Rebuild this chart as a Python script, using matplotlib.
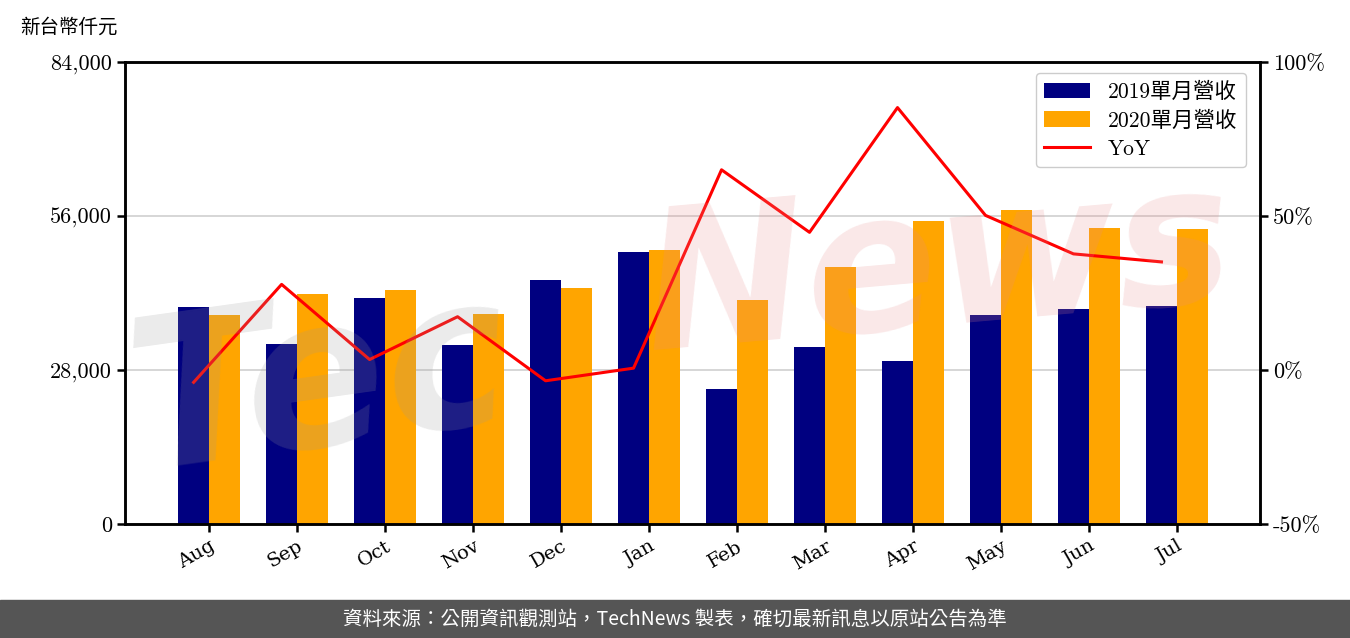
import matplotlib
matplotlib.use('Agg')
import matplotlib.pyplot as plt
from matplotlib.ticker import FuncFormatter
from matplotlib.patches import Rectangle
import numpy as np

months = ['Aug', 'Sep', 'Oct', 'Nov', 'Dec', 'Jan', 'Feb', 'Mar', 'Apr', 'May', 'Jun', 'Jul']
rev_2019 = [39450, 32700, 41100, 32550, 44350, 49450, 24550, 32200, 29650, 38000, 39100, 39650]
rev_2020 = [38000, 41800, 42550, 38200, 42900, 49800, 40750, 46750, 55100, 57100, 53800, 53650]
yoy = [-4.0, 27.8, 3.4, 17.3, -3.5, 0.6, 65.0, 44.7, 85.2, 50.2, 37.7, 35.1]

plt.rcParams['font.family'] = ['cmr10', 'Noto Sans CJK TC']
plt.rcParams['axes.unicode_minus'] = False

fig = plt.figure(figsize=(13.5, 6.38), dpi=100)
ax = fig.add_axes([125 / 1350, 1 - 524 / 638, 1135 / 1350, 462 / 638])
ax2 = ax.twinx()

x = np.arange(len(months))
w = 0.35
ax.bar(x - w / 2, rev_2019, width=w, color='#000080', label='2019單月營收', zorder=2)
ax.bar(x + w / 2, rev_2020, width=w, color='#FFA500', label='2020單月營收', zorder=2)
ax2.plot(x - w / 2, yoy, color='red', linewidth=2.2, label='YoY', zorder=3)

ax.set_xlim(-0.955, 11.945)
ax.set_ylim(0, 84000)
ax.set_yticks([0, 28000, 56000, 84000])
ax.yaxis.set_major_formatter(FuncFormatter(lambda v, p: f'{int(v):,}'))
ax.grid(axis='y', color='#d0d0d0', linewidth=1.2, zorder=0)
ax.set_axisbelow(True)

ax2.set_ylim(-50, 100)
ax2.set_yticks([-50, 0, 50, 100])
ax2.yaxis.set_major_formatter(FuncFormatter(lambda v, p: f'{int(v)}%'))

ax.set_xticks(x)
ax.set_xticklabels(months, rotation=30, ha='right', rotation_mode='anchor',
                   family='DejaVu Serif', fontsize=14)

for a in (ax, ax2):
    for s in a.spines.values():
        s.set_linewidth(1.8)
    a.tick_params(axis='y', labelsize=16, width=1.8, length=6)
    a.tick_params(axis='x', width=1.8, length=6)

h1, l1 = ax.get_legend_handles_labels()
h2, l2 = ax2.get_legend_handles_labels()
leg = ax2.legend(h1 + h2, l1 + l2, loc='upper right', fontsize=15.5,
                 handlelength=2.1, handleheight=0.75, handletextpad=0.85,
                 borderpad=0.4, labelspacing=0.4, borderaxespad=0,
                 framealpha=1, edgecolor='#cccccc',
                 bbox_to_anchor=(0.9877, 0.976))
leg.set_zorder(10)

# watermark
fig.text(140 / 1350, 1 - 470 / 638, 'Tec', fontsize=150, color='#9a9a9a', alpha=0.2,
         rotation=8, rotation_mode='anchor', ha='left', va='baseline',
         fontweight='bold', fontstyle='italic', family='DejaVu Sans', zorder=20)
fig.text(650 / 1350, 1 - 350 / 638, 'News', fontsize=140, color='#e88a8a', alpha=0.2,
         rotation=5, rotation_mode='anchor', ha='left', va='baseline',
         fontweight='bold', fontstyle='italic', family='DejaVu Sans', zorder=20)

fig.text(20 / 1350, 1 - 27 / 638, '新台幣仟元', fontsize=14, va='center',
         family=['Noto Sans CJK TC'])

fig.patches.append(Rectangle((0, 0), 1, 38 / 638, transform=fig.transFigure,
                             color='#555555', zorder=0))
fig.text(0.5, 19 / 638, '資料來源：公開資訊觀測站，TechNews 製表，確切最新訊息以原站公告為準',
         color='white', fontsize=14, ha='center', va='center',
         family=['Noto Sans CJK TC'])

fig.savefig('out.png', dpi=100)
